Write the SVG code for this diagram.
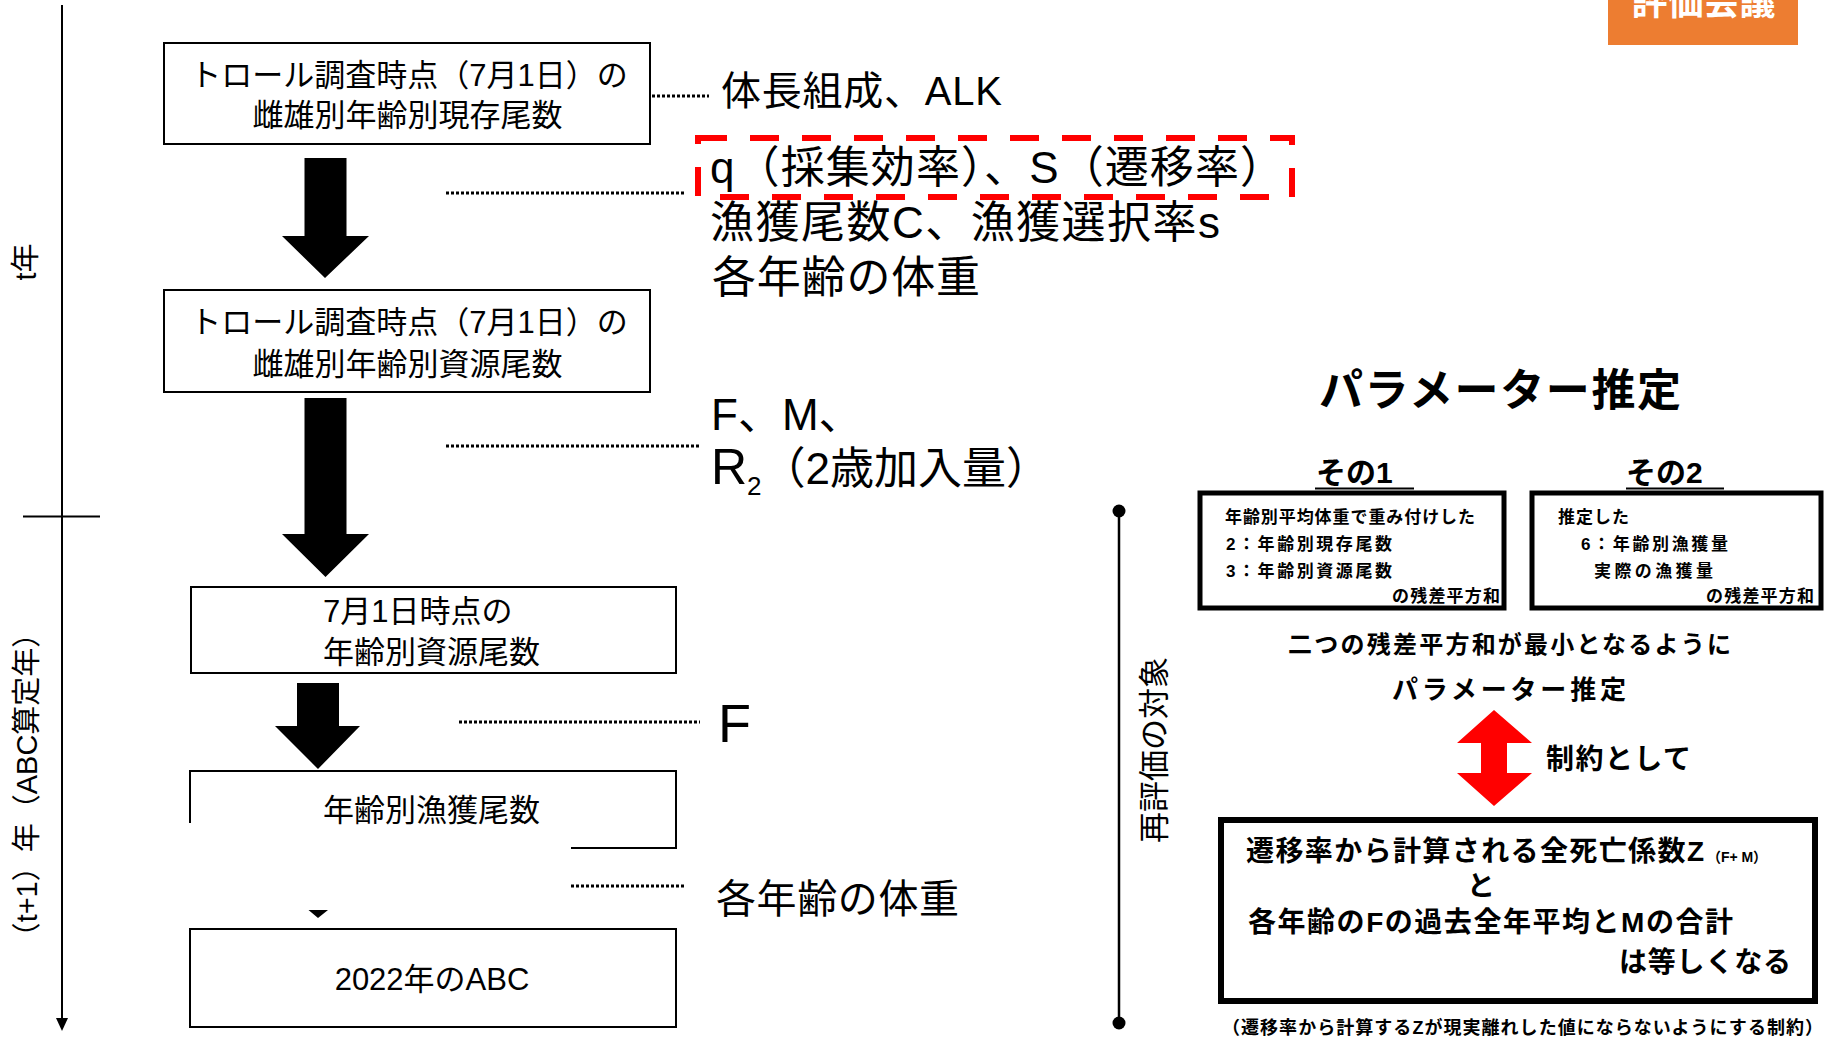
<svg xmlns="http://www.w3.org/2000/svg" width="1834" height="1037" viewBox="0 0 1834 1037">
  <style>
    .box { fill: #ffffff; stroke: #000000; stroke-width: 2; }
    .jp { font-family: "Liberation Sans", "Noto Sans CJK JP", sans-serif; fill: #000000; }
    .b { font-weight: bold; }
    .dot { stroke: #000000; stroke-width: 3; stroke-dasharray: 3 2; fill: none; }
    .blk { fill: #000000; }
    .thick { fill: #ffffff; stroke: #000000; stroke-width: 5; }
  </style>
  <rect x="0" y="0" width="1834" height="1037" fill="#ffffff"/>

  <!-- time axis -->
  <g id="time-axis">
    <line x1="62" y1="5" x2="62" y2="1022" stroke="#000" stroke-width="2"/>
    <polygon points="56,1018 68,1018 62,1031" class="blk"/>
    <line x1="23" y1="516.5" x2="100" y2="516.5" stroke="#000" stroke-width="2"/>
    <text class="jp" font-size="29" text-anchor="middle" dominant-baseline="central" transform="translate(26,262) rotate(-90)">t年</text>
    <text class="jp" font-size="29" text-anchor="middle" dominant-baseline="central" transform="translate(27,785) rotate(-90)">（t+1）年（ABC算定年）</text>
  </g>

  <!-- evaluation meeting tag -->
  <g id="tag">
    <rect x="1608" y="0" width="190" height="45" fill="#ED7D31"/>
    <text class="jp b" font-size="36" style="fill:#ffffff" x="1703.5" y="15" text-anchor="middle">評価会議</text>
  </g>

  <!-- flow boxes -->
  <g id="box1">
    <rect class="box" x="164" y="43" width="486" height="101"/>
    <text class="jp" font-size="31" x="409" y="86" text-anchor="middle">トロール調査時点（7月1日）の</text>
    <text class="jp" font-size="31" x="407.5" y="126" text-anchor="middle">雌雄別年齢別現存尾数</text>
  </g>
  <g id="box2">
    <rect class="box" x="164" y="290" width="486" height="102"/>
    <text class="jp" font-size="31" x="409" y="333" text-anchor="middle">トロール調査時点（7月1日）の</text>
    <text class="jp" font-size="31" x="407.5" y="375" text-anchor="middle">雌雄別年齢別資源尾数</text>
  </g>
  <g id="box3">
    <rect class="box" x="191" y="587" width="485" height="86"/>
    <text class="jp" font-size="31" x="323" y="622">7月1日時点の</text>
    <text class="jp" font-size="31" x="323" y="663">年齢別資源尾数</text>
  </g>
  <g id="box4">
    <path d="M190,823 V771 H676 V848 H571" fill="none" stroke="#000" stroke-width="2"/>
    <text class="jp" font-size="31" x="323" y="821">年齢別漁獲尾数</text>
  </g>
  <g id="box5">
    <rect class="box" x="190" y="929" width="486" height="98"/>
    <text class="jp" font-size="31" x="432" y="990" text-anchor="middle">2022年のABC</text>
  </g>

  <!-- input labels -->
  <g id="label-alk">
    <text class="jp" font-size="40" x="721" y="105" textLength="281" lengthAdjust="spacing">体長組成、ALK</text>
  </g>
  <g id="label-q">
    <rect x="698" y="138" width="594" height="59" fill="none" stroke="#FF0000" stroke-width="6" stroke-dasharray="29 23"/>
    <text class="jp" font-size="44" x="710" y="183" textLength="574" lengthAdjust="spacing">q（採集効率）、S（遷移率）</text>
    <text class="jp" font-size="44" x="710" y="238" textLength="510" lengthAdjust="spacing">漁獲尾数C、漁獲選択率s</text>
    <text class="jp" font-size="44" x="712" y="293" textLength="268" lengthAdjust="spacing">各年齢の体重</text>
  </g>
  <g id="label-fm">
    <text class="jp" font-size="44" x="711" y="430">F、M、</text>
    <text class="jp" font-size="44" x="711" y="484"><tspan font-size="50">R</tspan><tspan font-size="26" dy="11">2</tspan><tspan dy="-11">（2歳加入量）</tspan></text>
  </g>
  <g id="label-f">
    <text class="jp" font-size="54" x="718" y="742">F</text>
  </g>
  <g id="label-weight">
    <text class="jp" font-size="40" x="716" y="913" textLength="243" lengthAdjust="spacing">各年齢の体重</text>
  </g>

  <!-- connectors -->
  <g id="connectors">
    <polygon class="blk" points="304.5,158 346.5,158 346.5,236 369,236 325,278 282,236 304.5,236"/>
    <polygon class="blk" points="304.5,398 346.5,398 346.5,534 369,534 325.5,577 282,534 304.5,534"/>
    <polygon class="blk" points="297,683 339,683 339,726 360,726 318,769 275,726 297,726"/>
    <polygon class="blk" points="308.5,910 328,910 318,918"/>
    <line class="dot" x1="652" y1="96" x2="709" y2="96"/>
    <line class="dot" x1="446" y1="193" x2="685" y2="193"/>
    <line class="dot" x1="446" y1="446" x2="700" y2="446"/>
    <line class="dot" x1="459" y1="722" x2="700" y2="722"/>
    <line class="dot" x1="571" y1="886" x2="686" y2="886"/>
    <line x1="1119" y1="511" x2="1119" y2="1023" stroke="#000" stroke-width="2.5"/>
    <circle cx="1119" cy="511" r="6.5" class="blk"/>
    <circle cx="1119" cy="1023" r="6.5" class="blk"/>
    <polygon fill="#FF0000" points="1494,710 1532,743 1507,743 1507,773 1532,773 1494,806 1457,773 1481,773 1481,743 1457,743"/>
  </g>

  <g id="reeval-label">
    <text class="jp" font-size="31" text-anchor="middle" dominant-baseline="central" transform="translate(1154,750) rotate(-90)">再評価の対象</text>
  </g>

  <!-- parameter estimation -->
  <g id="param-title">
    <text class="jp b" font-size="44" x="1500" y="406" text-anchor="middle" textLength="362" lengthAdjust="spacing">パラメーター推定</text>
  </g>
  <g id="sono1">
    <text class="jp b" font-size="30" x="1316" y="483">その1</text>
    <line x1="1315" y1="488.5" x2="1414" y2="488.5" stroke="#000" stroke-width="2"/>
    <rect class="thick" x="1200" y="493" width="304" height="115"/>
    <text class="jp b" font-size="17" x="1225" y="523" textLength="250" lengthAdjust="spacing">年齢別平均体重で重み付けした</text>
    <text class="jp b" font-size="17" x="1226" y="550" textLength="166" lengthAdjust="spacing">2：年齢別現存尾数</text>
    <text class="jp b" font-size="17" x="1226" y="577" textLength="166" lengthAdjust="spacing">3：年齢別資源尾数</text>
    <text class="jp b" font-size="17" x="1392" y="602" textLength="108" lengthAdjust="spacing">の残差平方和</text>
  </g>
  <g id="sono2">
    <text class="jp b" font-size="30" x="1626" y="483">その2</text>
    <line x1="1626" y1="488.5" x2="1724" y2="488.5" stroke="#000" stroke-width="2"/>
    <rect class="thick" x="1532" y="493" width="289" height="115"/>
    <text class="jp b" font-size="17" x="1558" y="523" textLength="71" lengthAdjust="spacing">推定した</text>
    <text class="jp b" font-size="17" x="1581" y="550" textLength="147" lengthAdjust="spacing">6：年齢別漁獲量</text>
    <text class="jp b" font-size="17" x="1594" y="577" textLength="119" lengthAdjust="spacing">実際の漁獲量</text>
    <text class="jp b" font-size="17" x="1706" y="602" textLength="108" lengthAdjust="spacing">の残差平方和</text>
  </g>
  <g id="minimize">
    <text class="jp b" font-size="24" x="1288" y="653" textLength="443" lengthAdjust="spacing">二つの残差平方和が最小となるように</text>
    <text class="jp b" font-size="26" x="1392" y="699" textLength="234" lengthAdjust="spacing">パラメーター推定</text>
  </g>
  <g id="constraint-label">
    <text class="jp b" font-size="28" x="1546" y="769" textLength="145" lengthAdjust="spacing">制約として</text>
  </g>
  <g id="constraint-box">
    <rect fill="#ffffff" stroke="#000" stroke-width="6" x="1221" y="820" width="594" height="181"/>
    <text class="jp b" font-size="28" x="1246" y="861" textLength="458" lengthAdjust="spacing">遷移率から計算される全死亡係数Z</text>
    <text class="jp b" font-size="14" x="1707" y="862" textLength="60" lengthAdjust="spacing">（F+ M）</text>
    <text class="jp b" font-size="28" x="1481" y="896" text-anchor="middle">と</text>
    <text class="jp b" font-size="28" x="1248" y="932" textLength="485" lengthAdjust="spacing">各年齢のFの過去全年平均とMの合計</text>
    <text class="jp b" font-size="28" x="1619" y="972" textLength="172" lengthAdjust="spacing">は等しくなる</text>
  </g>
  <g id="footnote">
    <text class="jp b" font-size="18" x="1222" y="1034" textLength="601" lengthAdjust="spacing">（遷移率から計算するZが現実離れした値にならないようにする制約）</text>
  </g>
</svg>
